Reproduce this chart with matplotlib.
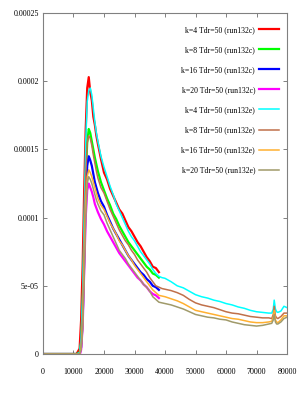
import matplotlib
matplotlib.use("Agg")
import matplotlib.pyplot as plt

plt.rcParams['font.family'] = ['Liberation Serif', 'DejaVu Serif']

# x grids (time steps)
xc = [0, 11000, 12000, 12500, 13000, 13500, 14000, 14500, 15000, 15500, 16000,
      16500, 17000, 17500, 18000, 19000, 20000, 21000, 22000, 23000, 24000,
      25000, 26000, 27000, 28000, 29000, 30000, 31000, 32000, 33000, 34000,
      35000, 36000, 37000, 38000]
xe = xc + [39000, 40000, 42000, 44000, 46000, 48000, 50000, 52000, 54000, 56000,
           58000, 60000, 62000, 64000, 66000, 68000, 70000, 72000, 74000, 75000,
           75500, 75800, 76200, 76600, 77000, 78000, 79000, 80000]

# values in units of 1e-5
k4c = [0, 0, 0.4, 2.5, 6.5, 12, 16.5, 19.5, 20.3, 19.2, 18.6, 17.4, 16.8, 16.0,
       15.4, 14.3, 13.3, 12.8, 12.1, 11.6, 11.1, 10.6, 10.3, 9.8, 9.3, 9.0, 8.6,
       8.2, 7.9, 7.5, 7.1, 6.8, 6.4, 6.3, 6.0]
k8c = [0, 0, 0.1, 0.8, 3.5, 8, 13, 15.5, 16.5, 16.2, 15.6, 15.0, 14.4, 13.9,
       13.4, 12.6, 12.0, 11.4, 10.9, 10.3, 9.9, 9.4, 9.0, 8.6, 8.2, 7.9, 7.6,
       7.3, 7.0, 6.7, 6.4, 6.2, 5.9, 5.8, 5.6]
k16c = [0, 0, 0, 0.5, 2.5, 7, 11.5, 13.8, 14.5, 14.2, 13.8, 13.2, 12.6, 12.2,
        11.8, 11.2, 10.8, 10.2, 9.7, 9.2, 8.8, 8.4, 8.0, 7.6, 7.2, 6.9, 6.6,
        6.3, 6.0, 5.8, 5.5, 5.3, 5.0, 4.9, 4.7]
k20c = [0, -0.1, -0.1, 0.3, 2, 6, 10, 12, 12.5, 12.2, 11.9, 11.5, 11.0, 10.7,
        10.4, 9.9, 9.5, 9.0, 8.6, 8.2, 7.8, 7.4, 7.1, 6.8, 6.5, 6.2, 5.9, 5.6,
        5.4, 5.1, 4.9, 4.6, 4.4, 4.3, 4.1]
k4e = [0, 0, 0.1, 1.2, 4.5, 10, 15.5, 18.5, 19.3, 19.5, 19.0, 18.0, 17.0, 16.2,
       15.6, 14.5, 13.7, 13.0, 12.3, 11.7, 11.0, 10.5, 10.0, 9.5, 9.0, 8.6, 8.3,
       7.9, 7.5, 7.2, 6.9, 6.6, 6.2, 5.9, 5.7,
       5.6, 5.55, 5.3, 5.0, 4.85, 4.6, 4.35, 4.2, 4.1, 3.95, 3.85, 3.7, 3.6,
       3.45, 3.35, 3.2, 3.1, 3.05, 3.0, 3.0, 3.3, 3.95, 3.3, 3.1, 3.05, 3.15,
       3.5, 3.4]
k8e = [0, 0, 0, 0.6, 3, 8, 13, 15.5, 16, 15.8, 15.3, 14.6, 14.0, 13.4, 12.9,
       12.2, 11.8, 11.2, 10.6, 10.1, 9.6, 9.1, 8.7, 8.3, 8.0, 7.6, 7.3, 6.9,
       6.6, 6.3, 6.0, 5.6, 5.3, 5.0, 4.9,
       4.8, 4.75, 4.65, 4.5, 4.3, 4.0, 3.75, 3.6, 3.5, 3.4, 3.25, 3.1, 3.0,
       2.95, 2.85, 2.75, 2.7, 2.65, 2.65, 2.6, 2.9, 3.5, 2.8, 2.65, 2.6, 2.75,
       3.0, 3.0]
k16e = [0, 0, 0, 0.4, 2.2, 6.5, 11, 13, 13.5, 13.3, 13.0, 12.6, 12.2, 11.8,
        11.4, 10.9, 10.6, 10.1, 9.6, 9.2, 8.8, 8.3, 8.0, 7.6, 7.2, 6.9, 6.5,
        6.2, 5.9, 5.6, 5.3, 5.0, 4.7, 4.5, 4.3,
        4.25, 4.2, 4.05, 3.9, 3.7, 3.45, 3.2, 3.1, 3.0, 2.9, 2.8, 2.7, 2.6,
        2.55, 2.45, 2.35, 2.3, 2.3, 2.35, 2.4, 2.7, 3.2, 2.5, 2.35, 2.3, 2.5,
        2.8, 2.8]
k20e = [0, 0, 0, 0.3, 1.8, 5.5, 10, 12.5, 13.0, 12.8, 12.5, 12.1, 11.7, 11.3,
        11.0, 10.5, 10.2, 9.6, 9.1, 8.6, 8.1, 7.6, 7.3, 7.0, 6.6, 6.3, 6.0, 5.7,
        5.4, 5.1, 4.9, 4.6, 4.2, 4.0, 3.8,
        3.75, 3.7, 3.6, 3.45, 3.3, 3.1, 2.9, 2.8, 2.7, 2.65, 2.55, 2.5, 2.35,
        2.25, 2.15, 2.1, 2.05, 2.1, 2.2, 2.25, 2.5, 2.9, 2.35, 2.2, 2.2, 2.35,
        2.6, 2.7]

series = [
    ("k=4 Tdr=50 (run132c)", xc, k4c, "#ff0000", 1.6),
    ("k=8 Tdr=50 (run132c)", xc, k8c, "#00ff00", 1.6),
    ("k=16 Tdr=50 (run132c)", xc, k16c, "#0000ff", 1.6),
    ("k=20 Tdr=50 (run132c)", xc, k20c, "#ff00ff", 1.6),
    ("k=4 Tdr=50 (run132e)", xe, k4e, "#00ffff", 1.1),
    ("k=8 Tdr=50 (run132e)", xe, k8e, "#c0704a", 1.1),
    ("k=16 Tdr=50 (run132e)", xe, k16e, "#ffb030", 1.1),
    ("k=20 Tdr=50 (run132e)", xe, k20e, "#a09a6a", 1.1),
]

yticks = [0, 5e-05, 0.0001, 0.00015, 0.0002, 0.00025]
ylabels = ["0", "5e-05", "0.0001", "0.00015", "0.0002", "0.00025"]
xticks = [0, 10000, 20000, 30000, 40000, 50000, 60000, 70000, 80000]

fig = plt.figure(figsize=(2.99, 3.93), dpi=100)
ax = fig.add_axes([0.1438, 0.0992, 0.8161, 0.8677])

for name, xs, ys, col, lw in series:
    ax.plot(xs, [v * 1e-5 for v in ys], color=col, lw=lw, label=name)

ax.set_xlim(0, 80000)
ax.set_ylim(0, 0.00025)
ax.set_yticks(yticks)
ax.set_yticklabels(ylabels)
ax.set_xticks(xticks)
ax.set_xticklabels([str(t) for t in xticks])
ax.tick_params(direction="in", length=3, width=0.7, color="#808080",
               labelsize=5.8, top=True, right=True)
ax.tick_params(axis="x", pad=10)
ax.tick_params(axis="y", pad=3)
for s in ax.spines.values():
    s.set_color("#808080")
    s.set_linewidth(0.8)

leg = ax.legend(loc="upper right", markerfirst=False, frameon=False,
                fontsize=5.6, handlelength=2.6, handletextpad=0.5,
                labelspacing=1.55, borderaxespad=0.3,
                bbox_to_anchor=(0.99, 0.978))

fig.savefig("out.png", dpi=100)
